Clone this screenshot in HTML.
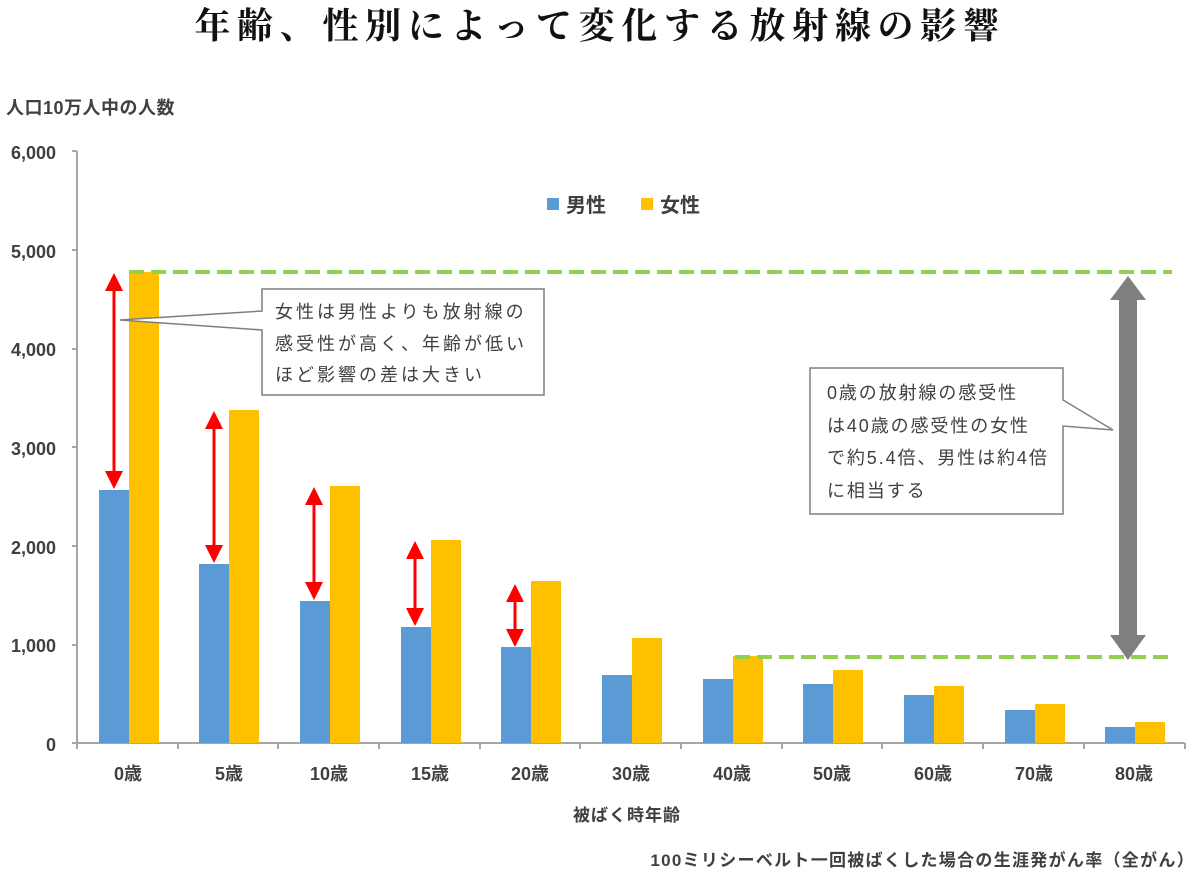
<!DOCTYPE html>
<html><head><meta charset="utf-8"><style>
body{margin:0;background:#fff}
svg{display:block}
text{font-family:"Liberation Sans","Noto Sans CJK JP",sans-serif;fill:#404040}
</style></head><body>
<svg width="1200" height="873" viewBox="0 0 1200 873">
<defs>
<marker id="ra" markerWidth="6" markerHeight="6" refX="5" refY="3" orient="auto-start-reverse" markerUnits="strokeWidth"><path d="M0,0 L6,3 L0,6 z" fill="#f00"/></marker>
</defs>
<text x="600" y="38" text-anchor="middle" font-size="36" font-weight="bold" letter-spacing="6.7" style="font-family:'Noto Serif CJK JP','Noto Serif CJK SC',serif;fill:#111">年齢、性別によって変化する放射線の影響</text>
<text x="6" y="114" font-size="18" font-weight="bold" letter-spacing="0.5">人口10万人中の人数</text>
<g font-size="18" font-weight="bold" text-anchor="end">
<text x="56" y="159">6,000</text><text x="56" y="258">5,000</text><text x="56" y="356">4,000</text>
<text x="56" y="455">3,000</text><text x="56" y="554">2,000</text><text x="56" y="652">1,000</text><text x="56" y="751">0</text>
</g>
<g stroke="#a6a6a6" stroke-width="2" fill="none">
<path d="M77,151 V743 H1185"/>
<path d="M72,151H77M72,250H77M72,349H77M72,447H77M72,546H77M72,645H77M72,743H77"/>
<path d="M77,743v6M178,743v6M278,743v6M379,743v6M480,743v6M580,743v6M681,743v6M782,743v6M882,743v6M983,743v6M1084,743v6M1185,743v6"/>
</g>
<g fill="#5b9bd5">
<rect x="99" y="490" width="30" height="253"/><rect x="199" y="564" width="30" height="179"/>
<rect x="300" y="601" width="30" height="142"/><rect x="401" y="627" width="30" height="116"/>
<rect x="501" y="647" width="30" height="96"/><rect x="602" y="675" width="30" height="68"/>
<rect x="703" y="679" width="30" height="64"/><rect x="803" y="684" width="30" height="59"/>
<rect x="904" y="695" width="30" height="48"/><rect x="1005" y="710" width="30" height="33"/>
<rect x="1105" y="727" width="30" height="16"/>
</g>
<g fill="#ffc000">
<rect x="129" y="272" width="30" height="471"/><rect x="229" y="410" width="30" height="333"/>
<rect x="330" y="486" width="30" height="257"/><rect x="431" y="540" width="30" height="203"/>
<rect x="531" y="581" width="30" height="162"/><rect x="632" y="638" width="30" height="105"/>
<rect x="733" y="656" width="30" height="87"/><rect x="833" y="670" width="30" height="73"/>
<rect x="934" y="686" width="30" height="57"/><rect x="1035" y="704" width="30" height="39"/>
<rect x="1135" y="722" width="30" height="21"/>
</g>
<g font-size="18" font-weight="bold" text-anchor="middle">
<text x="128" y="780">0歳</text><text x="229" y="780">5歳</text><text x="329" y="780">10歳</text>
<text x="430" y="780">15歳</text><text x="530" y="780">20歳</text><text x="631" y="780">30歳</text>
<text x="732" y="780">40歳</text><text x="832" y="780">50歳</text><text x="933" y="780">60歳</text>
<text x="1034" y="780">70歳</text><text x="1134" y="780">80歳</text>
</g>
<text x="627" y="821" font-size="17" font-weight="bold" text-anchor="middle" letter-spacing="1">被ばく時年齢</text>
<text x="1195" y="866" font-size="17" font-weight="bold" text-anchor="end" letter-spacing="1.3">100ミリシーベルト一回被ばくした場合の生涯発がん率（全がん）</text>
<rect x="547" y="198" width="12" height="12" fill="#5b9bd5"/>
<text x="566" y="212" font-size="20" font-weight="bold">男性</text>
<rect x="641" y="198" width="12" height="12" fill="#ffc000"/>
<text x="660" y="212" font-size="20" font-weight="bold">女性</text>
<g stroke="#92d050" stroke-width="4" stroke-dasharray="15,7">
<path d="M129,272H1172"/><path d="M735,657H1172"/>
</g>
<g stroke="#f00" stroke-width="3" marker-start="url(#ra)" marker-end="url(#ra)">
<path d="M114,276V486"/><path d="M214,414V560"/><path d="M314,490V597"/><path d="M415,544V623"/><path d="M515,587V644"/>
</g>
<path d="M1128,276 L1146,300 L1137,300 L1137,635 L1146,635 L1128,660 L1110,635 L1119,635 L1119,300 L1110,300 Z" fill="#7f7f7f"/>
<path d="M262,289H544V395H262V330L120,320L262,311Z" fill="#fff" stroke="#7f7f7f" stroke-width="1.5"/>
<g font-size="18" letter-spacing="3">
<text x="275" y="318">女性は男性よりも放射線の</text>
<text x="275" y="350">感受性が高く、年齢が低い</text>
<text x="275" y="381">ほど影響の差は大きい</text>
</g>
<path d="M810,368H1063V400L1113,430L1063,426V514H810Z" fill="#fff" stroke="#7f7f7f" stroke-width="1.5"/>
<g font-size="18" letter-spacing="1.9">
<text x="827" y="399">0歳の放射線の感受性</text>
<text x="827" y="432">は40歳の感受性の女性</text>
<text x="827" y="464">で約5.4倍、男性は約4倍</text>
<text x="827" y="497">に相当する</text>
</g>
</svg>
</body></html>
